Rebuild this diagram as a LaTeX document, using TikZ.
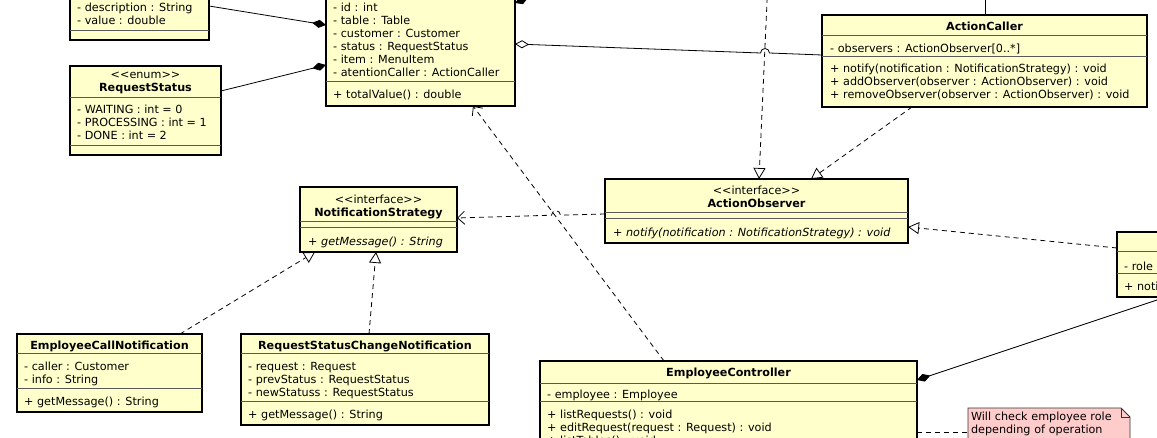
\documentclass[tikz,border=0pt]{standalone}
\usepackage{fontspec}
\setmainfont{DejaVu Sans}
\usetikzlibrary{arrows.meta}
\usetikzlibrary{backgrounds}
\definecolor{classfill}{RGB}{255,255,204}
\definecolor{notefill}{RGB}{255,204,204}
\newcommand{\umlfont}{\fontsize{11.2}{13}\selectfont}
\newcommand{\stereo}[1]{<\kern0pt<#1>\kern0pt>}

\tikzset{
  classbox/.style={draw, line width=1.8pt, fill=classfill, anchor=north west, inner sep=0pt, outer sep=0pt},
  compline/.style={draw=black!65, line width=1pt},
  members/.style={anchor=north west, inner sep=0pt, yshift=-1pt, align=left, font=\umlfont, execute at begin node=\strut},
  classname/.style={anchor=north, inner sep=0pt, align=center, font=\umlfont, execute at begin node=\strut},
  notetext/.style={anchor=north west, inner xsep=3pt, inner ysep=3pt, outer sep=0pt, text width=156pt, align=left, font=\umlfont, execute at begin node=\strut},
  link/.style={line width=0.8pt},
  realize/.style={link, dash pattern=on 5pt off 4pt, -{Triangle[open, length=11pt, width=12pt]}},
  depend/.style={link, dash pattern=on 5pt off 4pt, -{Straight Barb[length=7pt, width=13pt]}},
  compose/.style={link, -{Diamond[length=14pt, width=8pt]}},
  aggregate/.style={link, -{Diamond[open, length=14pt, width=8pt]}},
}

\begin{document}
\begin{tikzpicture}[x=1pt, y=-1pt]
  \useasboundingbox (0,0) rectangle (1157,438);
  \clip (0,0) rectangle (1157,438);

  % MenuItem (cut at the top)
  \node[classbox, minimum width=139pt, minimum height=60pt] (menuitem) at (70,-20) {};
  \draw[compline] (menuitem.west |- 0,31) -- (menuitem.east |- 0,31);
  \node[members] (menuitemattr) at (77,2) {- description : String\\- value : double};

  % Request
  \node[classbox, minimum width=189pt, minimum height=126pt] (request) at (326,-20) {};
  \draw[compline] (request.west |- 0,82) -- (request.east |- 0,82);
  \node[members] (requestattr) at (333,2) {- id : int\\- table : Table\\- customer : Customer\\- status : RequestStatus\\- item : MenuItem\\- atentionCaller : ActionCaller};
  \node[members] (requestops) at (333,88) {+ totalValue() : double};

  % RequestStatus
  \node[classbox, minimum width=151pt, minimum height=89pt] (reqstatus) at (70,66) {};
  \draw[compline] (reqstatus.west |- 0,98) -- (reqstatus.east |- 0,98);
  \draw[compline] (reqstatus.west |- 0,146) -- (reqstatus.east |- 0,146);
  \node[classname] (reqstatusname) at (reqstatus.north |- 0,72) {\stereo{enum}\\\textbf{RequestStatus}};
  \node[members] (reqstatusattr) at (77,104) {- WAITING : int = 0\\- PROCESSING : int = 1\\- DONE : int = 2};

  % ActionCaller
  \node[classbox, minimum width=325pt, minimum height=92pt] (actioncaller) at (822,15) {};
  \draw[compline] (actioncaller.west |- 0,36) -- (actioncaller.east |- 0,36);
  \draw[compline] (actioncaller.west |- 0,57) -- (actioncaller.east |- 0,57);
  \node[classname] (actioncallername) at (actioncaller.north |- 0,21) {\textbf{ActionCaller}};
  \node[members] (actioncallerattr) at (830,42) {- observers : ActionObserver[0..*]};
  \node[members] (actioncallerops) at (830,63) {+ notify(notification : NotificationStrategy) : void\\+ addObserver(observer : ActionObserver) : void\\+ removeObserver(observer : ActionObserver) : void};

  % NotificationStrategy
  \node[classbox, minimum width=157pt, minimum height=65pt] (notifstrat) at (300,187) {};
  \draw[compline] (notifstrat.west |- 0,222) -- (notifstrat.east |- 0,222);
  \draw[compline] (notifstrat.west |- 0,228) -- (notifstrat.east |- 0,228);
  \node[classname] (notifstratname) at (notifstrat.north |- 0,195) {\stereo{interface}\\\textbf{NotificationStrategy}};
  \node[members] (notifstratops) at (308,235) {\textit{+ getMessage() : String}};

  % ActionObserver
  \node[classbox, minimum width=303pt, minimum height=64pt] (actionobs) at (605,179) {};
  \draw[compline] (actionobs.west |- 0,213) -- (actionobs.east |- 0,213);
  \draw[compline] (actionobs.west |- 0,219) -- (actionobs.east |- 0,219);
  \node[classname] (actionobsname) at (actionobs.north |- 0,186) {\stereo{interface}\\\textbf{ActionObserver}};
  \node[members] (actionobsops) at (613,226) {\textit{+ notify(notification : NotificationStrategy) : void}};

  % observer class at the right edge
  \node[classbox, minimum width=140pt, minimum height=65pt] (rightcls) at (1117,232) {};
  \draw[compline] (rightcls.west |- 0,252) -- (rightcls.east |- 0,252);
  \draw[compline] (rightcls.west |- 0,274) -- (rightcls.east |- 0,274);
  \node[members] (rightclsattr) at (1124,260) {- role};
  \node[members] (rightclsops) at (1124,280) {+ notify(notification : NotificationStrategy) : void};

  % EmployeeCallNotification
  \node[classbox, minimum width=185pt, minimum height=78pt] (empcall) at (17,334) {};
  \draw[compline] (empcall.west |- 0,354) -- (empcall.east |- 0,354);
  \draw[compline] (empcall.west |- 0,388) -- (empcall.east |- 0,388);
  \node[classname] (empcallname) at (empcall.north |- 0,340) {\textbf{EmployeeCallNotification}};
  \node[members] (empcallattr) at (24,361) {- caller : Customer\\- info : String};
  \node[members] (empcallops) at (24,395) {+ getMessage() : String};

  % RequestStatusChangeNotification
  \node[classbox, minimum width=248pt, minimum height=91pt] (rsnotif) at (241,334) {};
  \draw[compline] (rsnotif.west |- 0,354) -- (rsnotif.east |- 0,354);
  \draw[compline] (rsnotif.west |- 0,401) -- (rsnotif.east |- 0,401);
  \node[classname] (rsnotifname) at (rsnotif.north |- 0,340) {\textbf{RequestStatusChangeNotification}};
  \node[members] (rsnotifattr) at (248,361) {- request : Request\\- prevStatus : RequestStatus\\- newStatuss : RequestStatus};
  \node[members] (rsnotifops) at (248,408) {+ getMessage() : String};

  % EmployeeController (cut at the bottom)
  \node[classbox, minimum width=377pt, minimum height=100pt] (empctrl) at (540,361) {};
  \draw[compline] (empctrl.west |- 0,383) -- (empctrl.east |- 0,383);
  \draw[compline] (empctrl.west |- 0,401) -- (empctrl.east |- 0,401);
  \node[classname] (empctrlname) at (empctrl.north |- 0,367) {\textbf{EmployeeController}};
  \node[members] (empctrlattr) at (547,388) {- employee : Employee};
  \node[members] (empctrlops) at (547,409) {+ listRequests() : void\\+ editRequest(request : Request) : void\\+ listTables() : void};

  % note
  \node[notetext] (note) at (968,408) {Will check employee role\\depending of operation};
  \begin{scope}[on background layer]
    \filldraw[fill=notefill, draw=black!80, line width=0.8pt] ([yshift=-8pt]note.south west) -- (note.north west) -- ([xshift=-9pt]note.north east) -- ([yshift=-9pt]note.north east) -- ([yshift=-8pt]note.south east) -- cycle;
    \draw[black!80, line width=0.8pt] ([xshift=-9pt]note.north east) |- ([yshift=-9pt]note.north east);
  \end{scope}

  % associations
  \draw[compose] (menuitem.east |- 0,6) -- (request.west |- 0,25);
  \draw[compose] (reqstatus.east |- 0,91) -- (request.west |- 0,65);
  \coordinate (reqtop) at (560,-15);
  \draw[compose] (reqtop) -- (request.east |- 0,3);
  \draw[aggregate] (actioncaller.west |- 0,55) -- (769.5,53) arc[start angle=0, end angle=180, radius=4.5pt] -- (request.east |- 0,44);
  \coordinate (callertop) at (985,-20);
  \draw[link] (callertop) -- (actioncaller.north -| 985,0);
  \draw[compose] (rightcls.south -| 1166,0) -- (empctrl.east |- 0,380);

  % realizations
  \coordinate (obstop) at (768,-20);
  \draw[realize] (obstop) -- (actionobs.north -| 759,0);
  \draw[realize] (actioncaller.south -| 912,0) -- (actionobs.north -| 811,0);
  \draw[realize] (rightcls.west |- 0,248) -- (actionobs.east |- 0,227);
  \draw[realize] (empcall.north -| 180,0) -- (notifstrat.south -| 315,0);
  \draw[realize] (rsnotif.north -| 369,0) -- (notifstrat.south -| 376,0);

  % dependencies
  \draw[depend] (actionobs.west |- 0,214) -- (560.5,215.2) arc[start angle=0, end angle=180, radius=4.5pt] -- (notifstrat.east |- 0,218);
  \draw[depend] (empctrl.north -| 664,0) -- (request.south -| 473,0);
  \draw[link, dash pattern=on 5pt off 4pt] (empctrl.east |- 0,432) -- (note.west |- 0,432);
\end{tikzpicture}
\end{document}
